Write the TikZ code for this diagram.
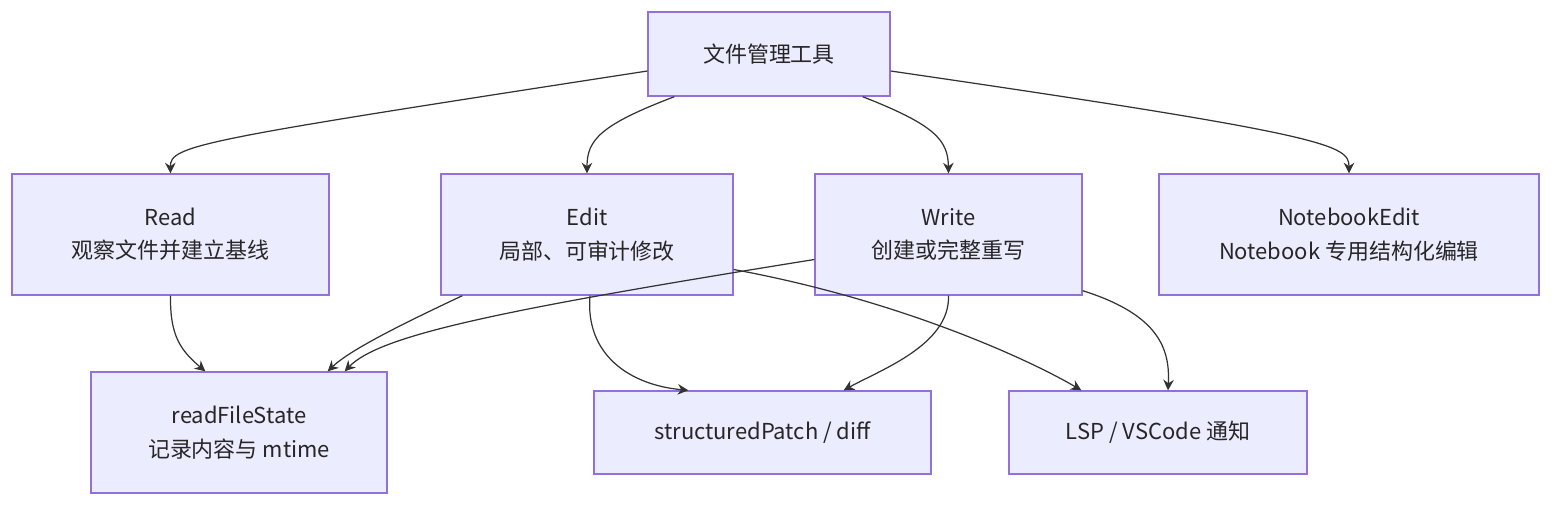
\documentclass[tikz,border=0pt]{standalone}
\usepackage{fontspec}
\setmainfont{Noto Sans CJK SC}
\usetikzlibrary{arrows.meta,calc}
\definecolor{boxfill}{HTML}{ECECFF}
\definecolor{boxline}{HTML}{9370DB}
\definecolor{edge}{HTML}{333333}
\tikzset{
  box/.style={draw=boxline, fill=boxfill, line width=0.8pt, align=center,
    inner sep=0pt, font=\fontsize{12.5}{19}\selectfont, text=black!85},
  link/.style={draw=edge, line width=0.7pt, -{Stealth[length=6pt,width=6pt]}}
}
\begin{document}
\begin{tikzpicture}[x=0.02cm,y=-0.02cm]
        \useasboundingbox (0,0) rectangle (1568,512);
        % boxes
        \node[box, minimum width=4.84cm, minimum height=1.68cm] (tool) at (769,54) {文件管理工具};
        \node[box, minimum width=6.34cm, minimum height=2.42cm] (read) at (170.5,234.5) {Read\\观察文件并建立基线};
        \node[box, minimum width=5.84cm, minimum height=2.42cm] (edit) at (587,234.5) {Edit\\局部、可审计修改};
        \node[box, minimum width=5.34cm, minimum height=2.42cm] (write) at (948.5,234.5) {Write\\创建或完整重写};
        \node[box, minimum width=7.6cm, minimum height=2.42cm] (nbedit) at (1349,234.5) {NotebookEdit\\Notebook 专用结构化编辑};
        \node[box, minimum width=5.92cm, minimum height=2.42cm] (state) at (239,432.5) {readFileState\\记录内容与 mtime};
        \node[box, minimum width=6.74cm, minimum height=1.66cm] (patch) at (762.5,432.5) {structuredPatch / diff};
        \node[box, minimum width=5.96cm, minimum height=1.66cm] (lsp) at (1158,432.5) {LSP / VSCode 通知};

        % top level
        \draw[link] ($(tool.west)+(0,17)$) .. controls (200,140) and (170,145) .. (read.north);
        \draw[link] ($(tool.south west)+(27,0)$) .. controls (600,125) and (587,140) .. (edit.north);
        \draw[link] ($(tool.south east)+(-28,0)$) .. controls (935,125) and (948,140) .. (write.north);
        \draw[link] ($(tool.east)+(0,17)$) .. controls (1330,135) and (1349,145) .. (nbedit.north);

        % second level
        \draw[link] (read.south) .. controls (170,335) and (180,350) .. ($(state.north west)+(115,0)$);
        \draw[link] ($(edit.south west)+(22,0)$) .. controls (400,325) and (350,350) .. ($(state.north east)+(-60,0)$);
        \draw[link] ($(write.west)+(0,25)$) .. controls (500,310) and (380,335) .. ($(state.north east)+(-43,0)$);
        \draw[link] ($(edit.south)+(3,0)$) .. controls (585,355) and (630,385) .. ($(patch.north west)+(95,0)$);
        \draw[link] (write.south) .. controls (950,345) and (880,370) .. ($(patch.north east)+(-88,0)$);
        \draw[link] ($(edit.east)+(0,35)$) .. controls (900,300) and (1030,360) .. ($(lsp.north west)+(73,0)$);
        \draw[link] ($(write.south east)+(0,-5)$) .. controls (1160,315) and (1170,350) .. ($(lsp.north)+(10,0)$);
\end{tikzpicture}
\end{document}
